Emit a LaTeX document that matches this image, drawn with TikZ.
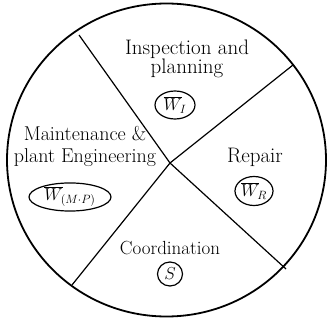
\documentclass[tikz,border=0pt]{standalone}
\usetikzlibrary{shapes.geometric}
\begin{document}
\begin{tikzpicture}[x=1pt,y=-1pt,
  lbl/.style={align=center, inner sep=0pt},
  tag/.style={draw, ellipse, line width=1.2pt, inner sep=0pt, font=\fontsize{17}{19}\selectfont},
  rim/.style={line width=1.8pt},
  div/.style={line width=1.2pt}]
\useasboundingbox (0,0) rectangle (327,326);
\draw[rim] (166.5,160) ellipse [x radius=159.5, y radius=156.5];
\coordinate (c) at (170,163);
\coordinate (ul) at (79,35);
\coordinate (lr) at (286,269);
\coordinate (ur) at (293,65);
\coordinate (ll) at (72,285);
\draw[div] (c) -- (ul);
\draw[div] (c) -- (lr);
\draw[div] (c) -- (ur);
\draw[div] (c) -- (ll);
\node[lbl, font=\fontsize{21}{18}\selectfont] (insp) at (187,59) {Inspection and\\planning};
\node[tag, minimum width=40, minimum height=28] (wi) at (175,105) {$\overline{W}_{\!I}$};
\node[lbl, font=\fontsize{20}{22}\selectfont] (maint) at (85,146) {Maintenance \&\\plant Engineering};
\node[tag, minimum width=82, minimum height=28] (wmp) at (70,197) {$\overline{W}_{\!(M\cdot P)}$};
\node[lbl, font=\fontsize{21}{24}\selectfont] (rep) at (255,157) {Repair};
\node[tag, minimum width=38, minimum height=29] (wr) at (254,191) {$\overline{W}_{\!R}$};
\node[lbl, font=\fontsize{19}{22}\selectfont] (coord) at (170,248) {Coordination};
\node[tag, minimum width=25, minimum height=24] (s) at (170,274) {$S$};
\end{tikzpicture}
\end{document}
